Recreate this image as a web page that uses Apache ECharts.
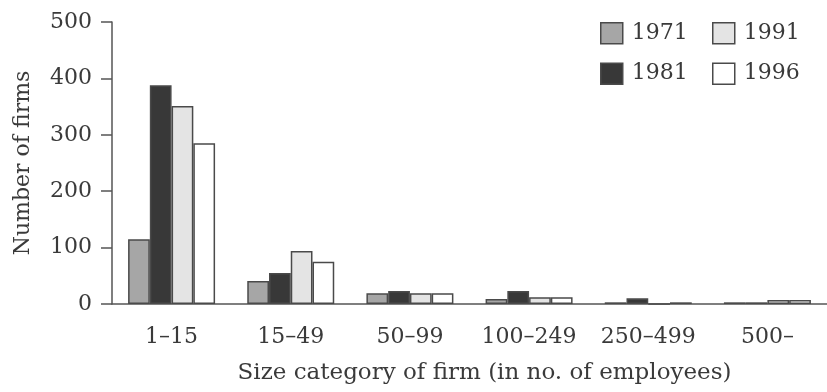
<!DOCTYPE html>
<html>
<head>
<meta charset="utf-8">
<script src="https://cdn.jsdelivr.net/npm/echarts@6/dist/echarts.min.js"></script>
<style>
  html, body { margin: 0; padding: 0; background: #fff; }
  #chart { width: 827px; height: 392px; }
</style>
</head>
<body>
<div id="chart"></div>
<script>
// Firm size categories (number of employees)
const categories = ['1\u201315', '15\u201349', '50\u201399', '100\u2013249', '250\u2013499', '500\u2013'];
const yearNames = ['1971', '1981', '1991', '1996'];
// Number of firms in each size category, by census year
const firms1971 = [115, 41, 19, 9, 3, 3];
const firms1981 = [388, 55, 23, 23, 10, 3];
const firms1991 = [351, 94, 19, 12, 0, 7];
const firms1996 = [285, 75, 19, 12, 3, 7];
const yTicks = [0, 100, 200, 300, 400, 500];

const fills = ['#a6a6a6', '#383838', '#e4e4e4', '#ffffff'];
const values = [firms1971, firms1981, firms1991, firms1996];
const FONT = 'DejaVu Serif';
const INK = '#3a3a3a';
const LINE = '#555555';

const chart = echarts.init(document.getElementById('chart'), null, { renderer: 'canvas' });

const series = yearNames.map((name, i) => ({
  name: name,
  type: 'bar',
  data: values[i],
  barGap: '0%',
  barCategoryGap: '27%',
  itemStyle: { color: fills[i], borderColor: '#4a4a4a', borderWidth: 1.5 },
  emphasis: { disabled: true }
}));

const legendCommon = {
  orient: 'vertical',
  icon: 'rect',
  padding: 0,
  itemWidth: 22,
  itemHeight: 21,
  itemGap: 18,
  itemStyle: { borderColor: '#4a4a4a', borderWidth: 1.5 },
  textStyle: { fontFamily: FONT, fontSize: 22, color: INK, padding: [0, 0, 0, 4] },
  selectedMode: false
};

chart.setOption({
  animation: false,
  backgroundColor: '#ffffff',
  grid: { left: 112, right: -3, top: 22, bottom: 88 },
  legend: [
    Object.assign({ left: 600, top: 22, data: [yearNames[0], yearNames[1]] }, legendCommon),
    Object.assign({ left: 712, top: 22, data: [yearNames[2], yearNames[3]] }, legendCommon)
  ],
  xAxis: {
    type: 'category',
    data: categories,
    name: 'Size category of firm (in no. of employees)',
    nameLocation: 'middle',
    nameGap: 58,
    nameTextStyle: { fontFamily: FONT, fontSize: 23, color: INK, padding: [0, 0, 0, 30] },
    axisLine: { lineStyle: { color: LINE, width: 1.5 } },
    axisTick: { interval: 0, length: 12, lineStyle: { color: LINE, width: 1.5 } },
    axisLabel: { interval: 0, fontFamily: FONT, fontSize: 22, color: INK, margin: 22 }
  },
  yAxis: {
    type: 'value',
    min: yTicks[0],
    max: yTicks[yTicks.length - 1],
    interval: 100,
    name: 'Number of firms',
    nameLocation: 'middle',
    nameGap: 78,
    nameTextStyle: { fontFamily: FONT, fontSize: 22, color: INK },
    splitLine: { show: false },
    axisLine: { show: true, lineStyle: { color: LINE, width: 1.5 } },
    axisTick: { show: true, length: 11, lineStyle: { color: LINE, width: 1.5 } },
    axisLabel: { fontFamily: FONT, fontSize: 22, color: INK, margin: 20 }
  },
  series: series
});
</script>
</body>
</html>
